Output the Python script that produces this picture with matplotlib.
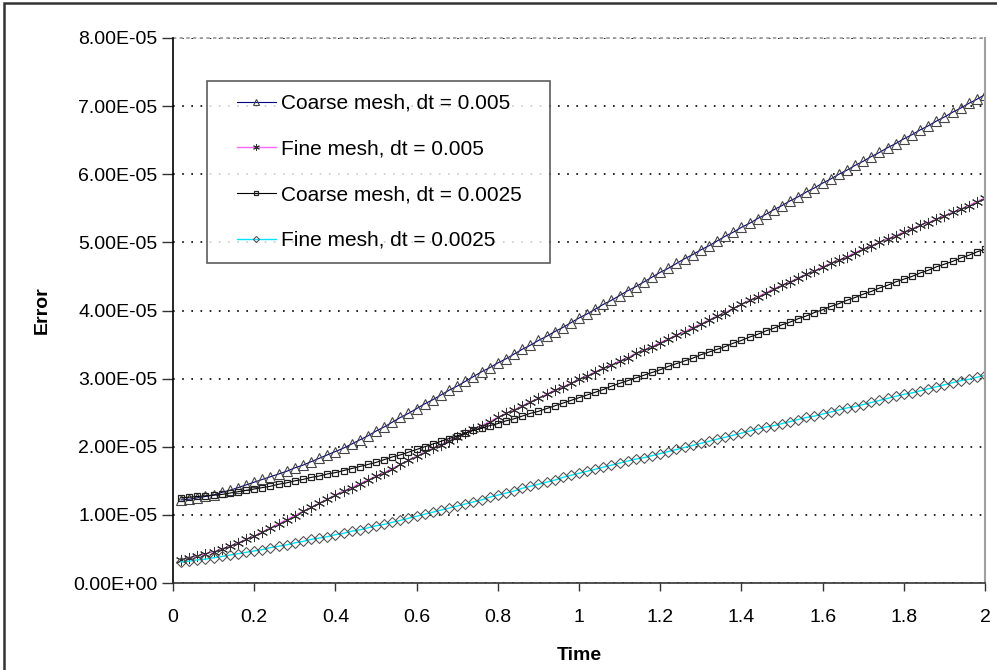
import matplotlib
matplotlib.use("Agg")
import matplotlib.pyplot as plt
from matplotlib.patches import Rectangle
from matplotlib.ticker import FixedLocator, FuncFormatter
from matplotlib.legend_handler import HandlerLine2D

plt.rcParams['font.family'] = ['Liberation Sans', 'DejaVu Sans']

time = [round(0.02 * i, 2) for i in range(1, 101)]

coarse_005 = [1.22, 1.23, 1.25, 1.27, 1.29, 1.33, 1.36, 1.40, 1.44, 1.48,
              1.52, 1.56, 1.60, 1.64, 1.69, 1.73, 1.78, 1.83, 1.88, 1.93,
              1.98, 2.04, 2.10, 2.16, 2.23, 2.29, 2.36, 2.43, 2.49, 2.56,
              2.63, 2.69, 2.76, 2.83, 2.89, 2.96, 3.03, 3.10, 3.16, 3.23,
              3.29, 3.36, 3.43, 3.49, 3.56, 3.62, 3.69, 3.75, 3.82, 3.89,
              3.95, 4.02, 4.09, 4.15, 4.22, 4.29, 4.35, 4.42, 4.49, 4.56,
              4.62, 4.69, 4.76, 4.82, 4.89, 4.95, 5.02, 5.09, 5.15, 5.22,
              5.28, 5.35, 5.41, 5.48, 5.54, 5.61, 5.67, 5.74, 5.80, 5.87,
              5.93, 6.00, 6.06, 6.13, 6.19, 6.26, 6.32, 6.39, 6.45, 6.52,
              6.58, 6.65, 6.71, 6.78, 6.84, 6.91, 6.97, 7.04, 7.10, 7.17]

fine_005 = [0.34, 0.37, 0.40, 0.43, 0.46, 0.50, 0.54, 0.59, 0.64, 0.69,
            0.75, 0.81, 0.87, 0.93, 0.99, 1.05, 1.11, 1.17, 1.23, 1.29,
            1.35, 1.40, 1.46, 1.51, 1.57, 1.62, 1.68, 1.74, 1.80, 1.86,
            1.92, 1.98, 2.03, 2.09, 2.15, 2.20, 2.26, 2.31, 2.37, 2.43,
            2.49, 2.54, 2.60, 2.66, 2.71, 2.77, 2.83, 2.88, 2.93, 2.99,
            3.04, 3.10, 3.15, 3.20, 3.26, 3.31, 3.37, 3.42, 3.47, 3.53,
            3.58, 3.64, 3.69, 3.75, 3.80, 3.86, 3.92, 3.97, 4.03, 4.09,
            4.15, 4.20, 4.26, 4.32, 4.37, 4.42, 4.48, 4.53, 4.58, 4.64,
            4.69, 4.74, 4.79, 4.85, 4.90, 4.95, 5.00, 5.05, 5.10, 5.15,
            5.20, 5.25, 5.29, 5.34, 5.39, 5.44, 5.49, 5.54, 5.60, 5.65]

coarse_0025 = [1.25, 1.26, 1.27, 1.28, 1.29, 1.30, 1.32, 1.34, 1.36, 1.38,
               1.40, 1.42, 1.45, 1.47, 1.50, 1.52, 1.55, 1.57, 1.60, 1.62,
               1.65, 1.68, 1.71, 1.74, 1.77, 1.81, 1.85, 1.88, 1.92, 1.96,
               2.00, 2.04, 2.08, 2.12, 2.16, 2.20, 2.24, 2.27, 2.31, 2.34,
               2.38, 2.41, 2.45, 2.49, 2.52, 2.56, 2.60, 2.64, 2.68, 2.72,
               2.76, 2.80, 2.84, 2.89, 2.93, 2.97, 3.01, 3.05, 3.09, 3.13,
               3.18, 3.22, 3.26, 3.30, 3.35, 3.39, 3.43, 3.47, 3.52, 3.56,
               3.61, 3.65, 3.70, 3.74, 3.79, 3.83, 3.88, 3.92, 3.97, 4.01,
               4.06, 4.10, 4.15, 4.19, 4.24, 4.28, 4.33, 4.37, 4.42, 4.46,
               4.50, 4.55, 4.59, 4.64, 4.68, 4.72, 4.77, 4.81, 4.86, 4.90]

fine_0025 = [0.31, 0.32, 0.34, 0.35, 0.37, 0.39, 0.41, 0.43, 0.45, 0.47,
             0.49, 0.52, 0.54, 0.56, 0.59, 0.61, 0.64, 0.66, 0.68, 0.71,
             0.73, 0.76, 0.78, 0.81, 0.84, 0.86, 0.89, 0.92, 0.95, 0.98,
             1.01, 1.04, 1.07, 1.10, 1.13, 1.16, 1.19, 1.22, 1.26, 1.29,
             1.32, 1.35, 1.39, 1.42, 1.45, 1.48, 1.51, 1.55, 1.58, 1.61,
             1.64, 1.67, 1.70, 1.73, 1.76, 1.79, 1.82, 1.84, 1.87, 1.90,
             1.93, 1.96, 1.99, 2.02, 2.05, 2.08, 2.11, 2.14, 2.17, 2.20,
             2.23, 2.26, 2.29, 2.31, 2.34, 2.37, 2.40, 2.43, 2.45, 2.48,
             2.51, 2.54, 2.57, 2.59, 2.62, 2.65, 2.68, 2.71, 2.74, 2.77,
             2.79, 2.82, 2.85, 2.88, 2.91, 2.94, 2.97, 2.99, 3.02, 3.05]

scale = 1e-5
labels = ["Coarse mesh, dt = 0.005", "Fine mesh, dt = 0.005",
          "Coarse mesh, dt = 0.0025", "Fine mesh, dt = 0.0025"]
x_ticks = [0, 0.2, 0.4, 0.6, 0.8, 1, 1.2, 1.4, 1.6, 1.8, 2]
x_tick_labels = ["0", "0.2", "0.4", "0.6", "0.8", "1", "1.2", "1.4", "1.6", "1.8", "2"]
y_ticks = [0, 1e-5, 2e-5, 3e-5, 4e-5, 5e-5, 6e-5, 7e-5, 8e-5]

W, H = 997, 670
fig = plt.figure(figsize=(W / 100, H / 100), dpi=100)
fig.patch.set_facecolor("white")
ax = fig.add_axes([173 / W, (H - 583) / H, 812 / W, 545 / H])

asterisk = (6, 2, 0)
styles = [
    dict(color="#000080", lw=0.8, marker="^", ms=7, mfc="none", mec="#454545", mew=0.8),
    dict(color="#FF66FF", lw=1.0, marker=asterisk, ms=8, mec="#303030", mew=0.7),
    dict(color="#000000", lw=0.8, marker="s", ms=4.2, mfc="none", mec="#202020", mew=0.9),
    dict(color="#00E5FF", lw=1.0, marker="D", ms=5.2, mfc="none", mec="#505050", mew=0.75),
]
series = [coarse_005, fine_005, coarse_0025, fine_0025]
lines = []
for vals, lab, st in zip(series, labels, styles):
    ln, = ax.plot(time, [v * scale for v in vals], label=lab, **st)
    lines.append(ln)

ax.set_xlim(0, 2)
ax.set_ylim(0, 8e-5)
ax.xaxis.set_major_locator(FixedLocator(x_ticks))
ax.set_xticklabels(x_tick_labels)
ax.yaxis.set_major_locator(FixedLocator(y_ticks))
ax.yaxis.set_major_formatter(FuncFormatter(lambda v, p: "%.2E" % v))

ax.tick_params(axis="x", direction="out", length=6, width=1, pad=13, labelsize=14, color="#333333")
ax.tick_params(axis="y", direction="out", length=8, width=1, pad=3, labelsize=14, color="#333333")

ax.yaxis.grid(True, color="black", linestyle=(0, (1, 4.5)), linewidth=1.2)
ax.set_axisbelow(True)

ax.spines["left"].set_color("black")
ax.spines["left"].set_linewidth(1.2)
ax.spines["bottom"].set_color("#333333")
ax.spines["bottom"].set_linewidth(1.2)
ax.spines["right"].set_color("#a0a0a0")
ax.spines["right"].set_linewidth(1.5)
ax.spines["top"].set_visible(False)
ax.axhline(8e-5, color="#999999", linestyle=(0, (2, 2)), linewidth=1.2, clip_on=False)


class ShiftedLineHandler(HandlerLine2D):
    offset = 12.0  # points of empty space before the handle line

    def create_artists(self, legend, orig_handle, xdescent, ydescent,
                       width, height, fontsize, trans):
        return super().create_artists(legend, orig_handle, xdescent - self.offset,
                                      ydescent, width - self.offset, height,
                                      fontsize, trans)


x0 = (207 - 173) / 812
x1 = (550 - 173) / 812
y_top = (583 - 81) / 545
y_bot = (583 - 262) / 545
leg = ax.legend(handles=lines, loc="upper left",
                bbox_to_anchor=(x0, y_bot, x1 - x0, y_top - y_bot), mode="expand",
                borderaxespad=0, fontsize=15, frameon=True, fancybox=False,
                edgecolor="#333333", labelspacing=1.28, handlelength=2.7,
                handletextpad=0.25, borderpad=0.62, markerscale=0.6,
                handler_map={ln: ShiftedLineHandler() for ln in lines})
leg.get_frame().set_linewidth(1.2)

fig.text(579 / W, 1 - 655 / H, "Time", ha="center", va="center", fontsize=14, fontweight="bold")
fig.text(42 / W, 1 - 310 / H, "Error", ha="center", va="center", fontsize=14,
         fontweight="bold", rotation=90)

fig.patches.append(Rectangle((4 / W, -0.1), 1.2, 1.1 - 3 / H, transform=fig.transFigure,
                             fill=False, edgecolor="#333333", linewidth=1.8))

fig.savefig("out.png", dpi=100)
